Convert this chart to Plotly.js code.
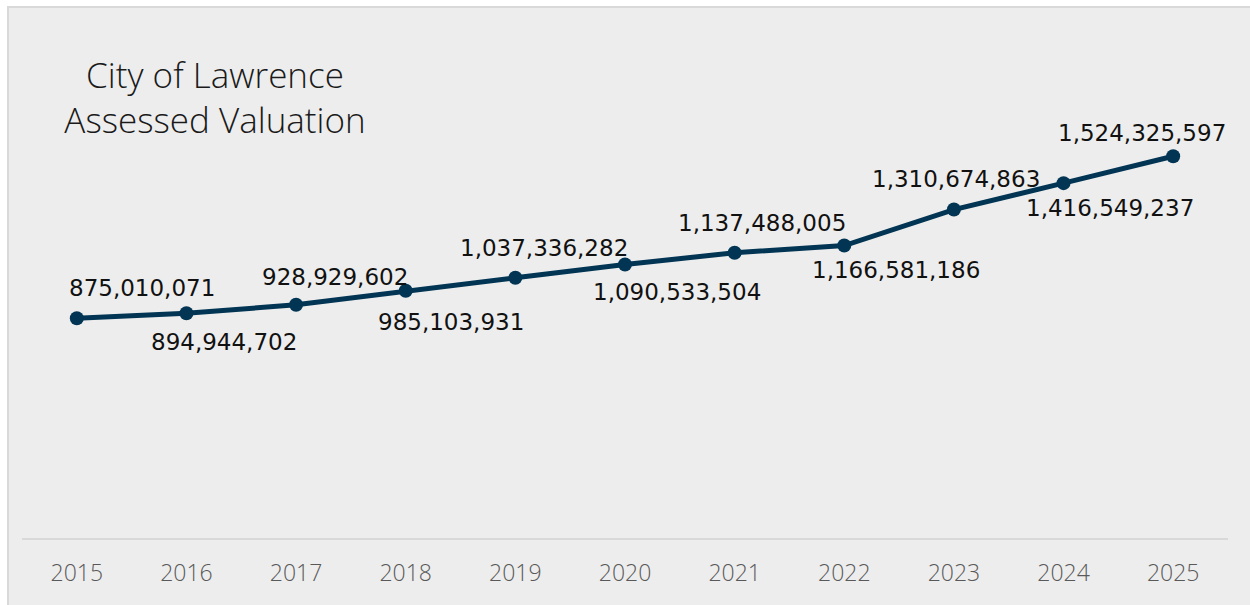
<!DOCTYPE html>
<html>
<head>
<meta charset="utf-8">
<script src="https://cdn.plot.ly/plotly-3.0.1.min.js"></script>
<style>
  html, body { margin: 0; padding: 0; background: #ffffff; }
  #frame { position: absolute; left: 7px; top: 6px; width: 1243px; height: 599px;
           background: #ededed; border-left: 2px solid #d9d9d9; border-top: 2px solid #d9d9d9; box-sizing: border-box; }
  #chart { position: absolute; left: 0; top: 0; width: 1250px; height: 605px; }
</style>
</head>
<body>
<div id="frame"></div>
<div id="chart"></div>
<script>
// Data
const years = ['2015','2016','2017','2018','2019','2020','2021','2022','2023','2024','2025'];
const assessedValuation = [875010071, 894944702, 928929602, 985103931, 1037336282, 1090533504,
                           1137488005, 1166581186, 1310674863, 1416549237, 1524325597];

// Label placement offsets (pixels, screen-space) — style only
const labelDx = [65, 38, 39, 45, 29, 52, 27, 52, 2, 46, -31];
const labelDy = [-30, 29, -28, 31, -30, 28, -30, 24, -31, 25, -23];

const lineColor = '#023554';

const trace = {
  x: years,
  y: assessedValuation,
  type: 'scatter',
  mode: 'lines+markers',
  line: { color: lineColor, width: 5 },
  marker: { color: lineColor, size: 14 },
  hoverinfo: 'x+y',
  cliponaxis: false
};

// annotations on a category axis are positioned by category index
const annotations = years.map((yr, i) => ({
  x: i,
  y: assessedValuation[i],
  xref: 'x', yref: 'y',
  text: assessedValuation[i].toLocaleString('en-US'),
  showarrow: false,
  xanchor: 'center', yanchor: 'middle',
  xshift: labelDx[i],
  yshift: -labelDy[i],
  font: { family: '"DejaVu Sans", sans-serif', size: 23, color: '#111111' }
}));

const layout = {
  width: 1250,
  height: 605,
  paper_bgcolor: 'rgba(0,0,0,0)',
  plot_bgcolor: 'rgba(0,0,0,0)',
  margin: { l: 22, r: 22, t: 89, b: 67 },
  showlegend: false,
  title: {
    text: 'City of Lawrence<br>Assessed Valuation',
    font: { family: '"Open Sans", Lato, sans-serif', size: 35, weight: 300, color: '#1a1a1a' },
    xref: 'container', yref: 'container',
    x: 0.172, xanchor: 'center',
    y: 0.855, yanchor: 'middle'
  },
  xaxis: {
    type: 'category',
    range: [-0.5, 10.5],
    showgrid: false,
    zeroline: false,
    showline: true,
    linecolor: '#d9d9d9',
    linewidth: 2,
    ticks: '',
    ticklabelstandoff: 13,
    tickfont: { family: '"Open Sans", Lato, sans-serif', size: 23, weight: 300, color: '#595959' },
    fixedrange: true
  },
  yaxis: {
    range: [-6e6, 1.794e9],
    showgrid: false,
    zeroline: false,
    showline: false,
    showticklabels: false,
    ticks: '',
    fixedrange: true
  },
  annotations: annotations
};

Plotly.newPlot('chart', [trace], layout, { displayModeBar: false, staticPlot: true });
</script>
</body>
</html>
